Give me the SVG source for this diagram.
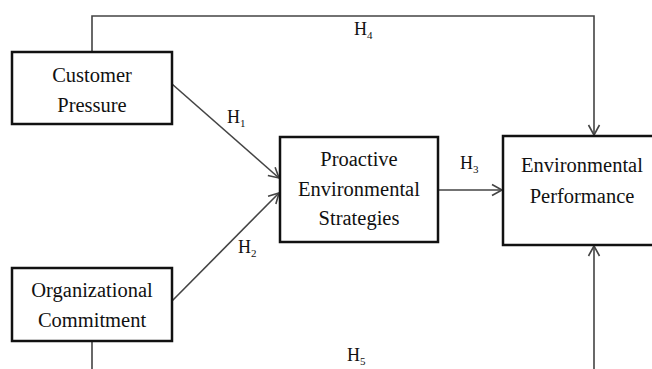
<svg xmlns="http://www.w3.org/2000/svg" width="652" height="369" viewBox="0 0 652 369">
<style>
.box{fill:#fff;stroke:#111;stroke-width:2.5}
.lbl{font-family:"Liberation Serif","Times New Roman",serif;font-size:20.5px;fill:#111;text-anchor:middle}
.h{font-family:"Liberation Serif","Times New Roman",serif;font-size:18px;fill:#111}
.sub{font-size:11px}
.conn{fill:none;stroke:#444;stroke-width:1.6}
</style>
<defs>
<marker id="arr" markerUnits="userSpaceOnUse" markerWidth="14" markerHeight="14" viewBox="0 0 14 14" refX="12" refY="7" orient="auto">
<path d="M2,1.5 L12,7 L2,12.5" fill="none" stroke="#444" stroke-width="1.6"/>
</marker>
</defs>
<rect width="652" height="369" fill="#fff"/>
<g id="connectors">
<path class="conn" d="M92,52 V16 H594 V135" marker-end="url(#arr)"/>
<path class="conn" d="M92,341 V400 H594 V246" marker-end="url(#arr)"/>
<line class="conn" x1="172" y1="84" x2="279" y2="178" marker-end="url(#arr)"/>
<line class="conn" x1="172" y1="301" x2="279" y2="193" marker-end="url(#arr)"/>
<line class="conn" x1="438" y1="190" x2="502" y2="190" marker-end="url(#arr)"/>
<text class="h" x="227" y="123">H<tspan class="sub" dy="4">1</tspan></text>
<text class="h" x="238" y="253">H<tspan class="sub" dy="4">2</tspan></text>
<text class="h" x="460" y="169">H<tspan class="sub" dy="4">3</tspan></text>
<text class="h" x="354" y="35">H<tspan class="sub" dy="4">4</tspan></text>
<text class="h" x="347" y="361">H<tspan class="sub" dy="4">5</tspan></text>
</g>
<g id="customer-pressure">
<rect class="box" x="12" y="52" width="160" height="72"/>
<text class="lbl" x="92" y="82">Customer</text>
<text class="lbl" x="92" y="112">Pressure</text>
</g>
<g id="organizational-commitment">
<rect class="box" x="12" y="268" width="160" height="73"/>
<text class="lbl" x="92" y="297">Organizational</text>
<text class="lbl" x="92" y="327">Commitment</text>
</g>
<g id="proactive-strategies">
<rect class="box" x="280" y="137" width="158" height="105"/>
<text class="lbl" x="359" y="166">Proactive</text>
<text class="lbl" x="359" y="195.5">Environmental</text>
<text class="lbl" x="359" y="225">Strategies</text>
</g>
<g id="environmental-performance">
<rect class="box" x="503" y="136" width="160" height="109"/>
<text class="lbl" x="582" y="172">Environmental</text>
<text class="lbl" x="582" y="203">Performance</text>
</g>
</svg>
